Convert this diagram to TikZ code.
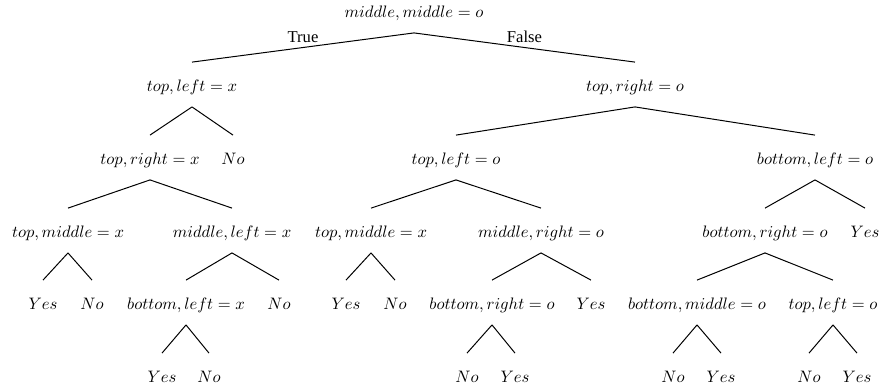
\documentclass[tikz,border=0pt]{standalone}
\usepackage{fontspec}
\newfontfamily\timesfont{Liberation Serif}
\begin{document}
\begin{tikzpicture}[x=0.6024pt,y=-0.6024pt,
  lab/.style={inner sep=0pt, anchor=center, text height=7pt, text depth=2pt},
  edge/.style={line width=0.6pt},
  brn/.style={font=\timesfont, inner sep=2.5pt}]
\useasboundingbox (0,0) rectangle (882,389);
% level 0
\node[lab] (root) at (414,13) {$middle, middle = o$};
% level 1
\node[lab] (tl1) at (192,87) {$top, left = x$};
\node[lab] (tr1) at (635,87) {$top, right = o$};
% level 2
\node[lab] (trx) at (150,160) {$top, right = x$};
\node[lab] (no1) at (233,160) {$No$};
\node[lab] (tlo) at (456,160) {$top, left = o$};
\node[lab] (blo) at (815,160) {$bottom, left = o$};
% level 3
\node[lab] (tmx1) at (68,233) {$top, middle = x$};
\node[lab] (mlx) at (232,233) {$middle, left = x$};
\node[lab] (tmx2) at (371,233) {$top, middle = x$};
\node[lab] (mro) at (541,233) {$middle, right = o$};
\node[lab] (bro1) at (765,233) {$bottom, right = o$};
\node[lab] (yes1) at (865,233) {$Yes$};
% level 4
\node[lab] (yes2) at (43,305) {$Yes$};
\node[lab] (no2) at (92,305) {$No$};
\node[lab] (blx) at (186,305) {$bottom, left = x$};
\node[lab] (no3) at (279,305) {$No$};
\node[lab] (yes3) at (346,305) {$Yes$};
\node[lab] (no4) at (395,305) {$No$};
\node[lab] (bro2) at (492,305) {$bottom, right = o$};
\node[lab] (yes4) at (591,305) {$Yes$};
\node[lab] (bmo) at (697,305) {$bottom, middle = o$};
\node[lab] (tlo2) at (833,305) {$top, left = o$};
% level 5
\node[lab] (yes5) at (162,378) {$Yes$};
\node[lab] (no5) at (209,378) {$No$};
\node[lab] (no6) at (467,378) {$No$};
\node[lab] (yes6) at (515,378) {$Yes$};
\node[lab] (no7) at (673,378) {$No$};
\node[lab] (yes7) at (721,378) {$Yes$};
\node[lab] (no8) at (809,378) {$No$};
\node[lab] (yes8) at (857,378) {$Yes$};
% edges
\draw[edge] ([yshift=-12pt]root.center) -- node[midway, above, brn] {True} ([yshift=15pt]tl1.center);
\draw[edge] ([yshift=-12pt]root.center) -- node[midway, above, brn] {False} ([yshift=15pt]tr1.center);
\foreach \p/\c in {tl1/trx, tl1/no1, tr1/tlo, tr1/blo,
  trx/tmx1, trx/mlx, tlo/tmx2, tlo/mro, blo/bro1, blo/yes1,
  tmx1/yes2, tmx1/no2, mlx/blx, mlx/no3, tmx2/yes3, tmx2/no4,
  mro/bro2, mro/yes4, bro1/bmo, bro1/tlo2,
  blx/yes5, blx/no5, bro2/no6, bro2/yes6, bmo/no7, bmo/yes7, tlo2/no8, tlo2/yes8}
  \draw[edge] ([yshift=-12pt]\p.center) -- ([yshift=15pt]\c.center);
\end{tikzpicture}
\end{document}
